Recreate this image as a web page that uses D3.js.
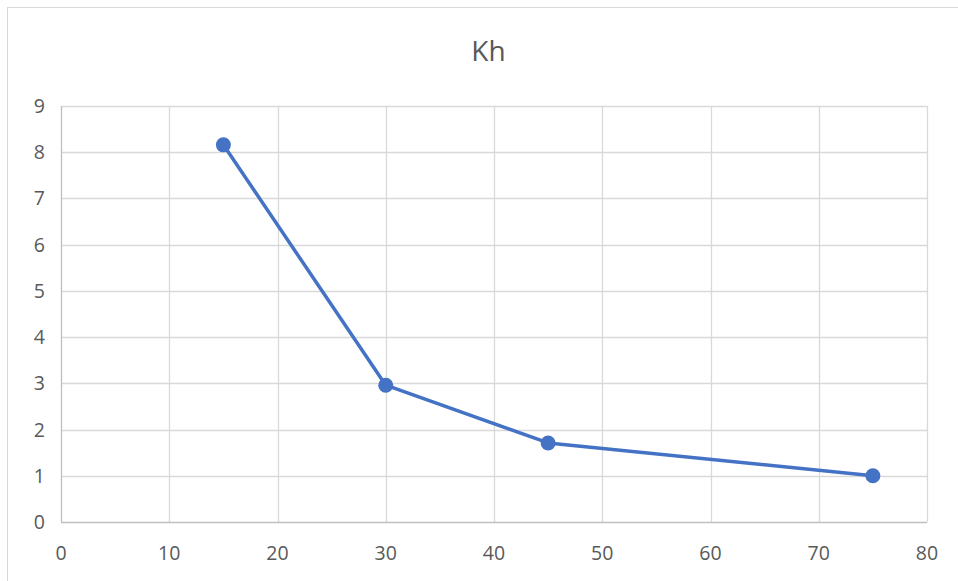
<!DOCTYPE html>
<html>
<head>
<meta charset="utf-8">
<script src="https://cdn.jsdelivr.net/npm/d3@7"></script>
<style>
  html, body { margin: 0; padding: 0; background: #fff; }
  svg { display: block; font-family: "Open Sans", "Liberation Sans", sans-serif; }
</style>
</head>
<body>
<svg id="chart" width="958" height="581"></svg>
<script>
// Kh measured against the x variable
const xValues = [15, 30, 45, 75];
const khValues = [8.16, 2.96, 1.71, 1.0];
const xTicks = [0, 10, 20, 30, 40, 50, 60, 70, 80];
const yTicks = [0, 1, 2, 3, 4, 5, 6, 7, 8, 9];
const chartTitle = "Kh";

const svg = d3.select("#chart");
const plotLeft = 61, plotRight = 927, plotTop = 106, plotBottom = 522;

// outer chart frame (only top and left edges fall inside the view)
svg.append("rect")
  .attr("x", 7.5).attr("y", 7.5)
  .attr("width", 1000).attr("height", 1000)
  .attr("fill", "none").attr("stroke", "#d9d9d9").attr("stroke-width", 1);

const x = d3.scaleLinear().domain([0, 80]).range([plotLeft, plotRight]);
const y = d3.scaleLinear().domain([0, 9]).range([plotBottom, plotTop]);

// gridlines
svg.append("g").selectAll("line").data(yTicks.filter(d => d > 0)).join("line")
  .attr("x1", plotLeft).attr("x2", plotRight)
  .attr("y1", d => Math.round(y(d)) + 0.5).attr("y2", d => Math.round(y(d)) + 0.5)
  .attr("stroke", "#d9d9d9").attr("stroke-width", 1.3);
svg.append("g").selectAll("line").data(xTicks.filter(d => d > 0)).join("line")
  .attr("y1", plotTop).attr("y2", plotBottom)
  .attr("x1", d => Math.round(x(d)) + 0.5).attr("x2", d => Math.round(x(d)) + 0.5)
  .attr("stroke", "#d9d9d9").attr("stroke-width", 1.3);

// axis lines
svg.append("line").attr("x1", plotLeft).attr("x2", plotRight)
  .attr("y1", plotBottom + 0.5).attr("y2", plotBottom + 0.5)
  .attr("stroke", "#bfbfbf").attr("stroke-width", 1.3);
svg.append("line").attr("x1", plotLeft + 0.5).attr("x2", plotLeft + 0.5)
  .attr("y1", plotTop).attr("y2", plotBottom)
  .attr("stroke", "#bfbfbf").attr("stroke-width", 1.3);

// tick labels
svg.append("g").selectAll("text").data(yTicks).join("text")
  .attr("x", 45).attr("y", d => y(d)).attr("dy", "0.36em")
  .attr("text-anchor", "end").attr("font-size", 19.5).attr("fill", "#595959")
  .text(d => d);
svg.append("g").selectAll("text").data(xTicks).join("text")
  .attr("x", d => x(d)).attr("y", 553).attr("dy", "0.36em")
  .attr("text-anchor", "middle").attr("font-size", 19.5).attr("fill", "#595959")
  .text(d => d);

// title
svg.append("text").attr("x", 488.5).attr("y", 51).attr("dy", "0.36em")
  .attr("text-anchor", "middle").attr("font-size", 28).attr("fill", "#595959")
  .text(chartTitle);

// series
const pts = xValues.map((v, i) => [v, khValues[i]]);
svg.append("path").datum(pts)
  .attr("fill", "none").attr("stroke", "#4472c4").attr("stroke-width", 3.5)
  .attr("stroke-linejoin", "round")
  .attr("d", d3.line().x(d => x(d[0])).y(d => y(d[1])));
svg.append("g").selectAll("circle").data(pts).join("circle")
  .attr("cx", d => x(d[0])).attr("cy", d => y(d[1])).attr("r", 7.5)
  .attr("fill", "#4472c4");
</script>
</body>
</html>
